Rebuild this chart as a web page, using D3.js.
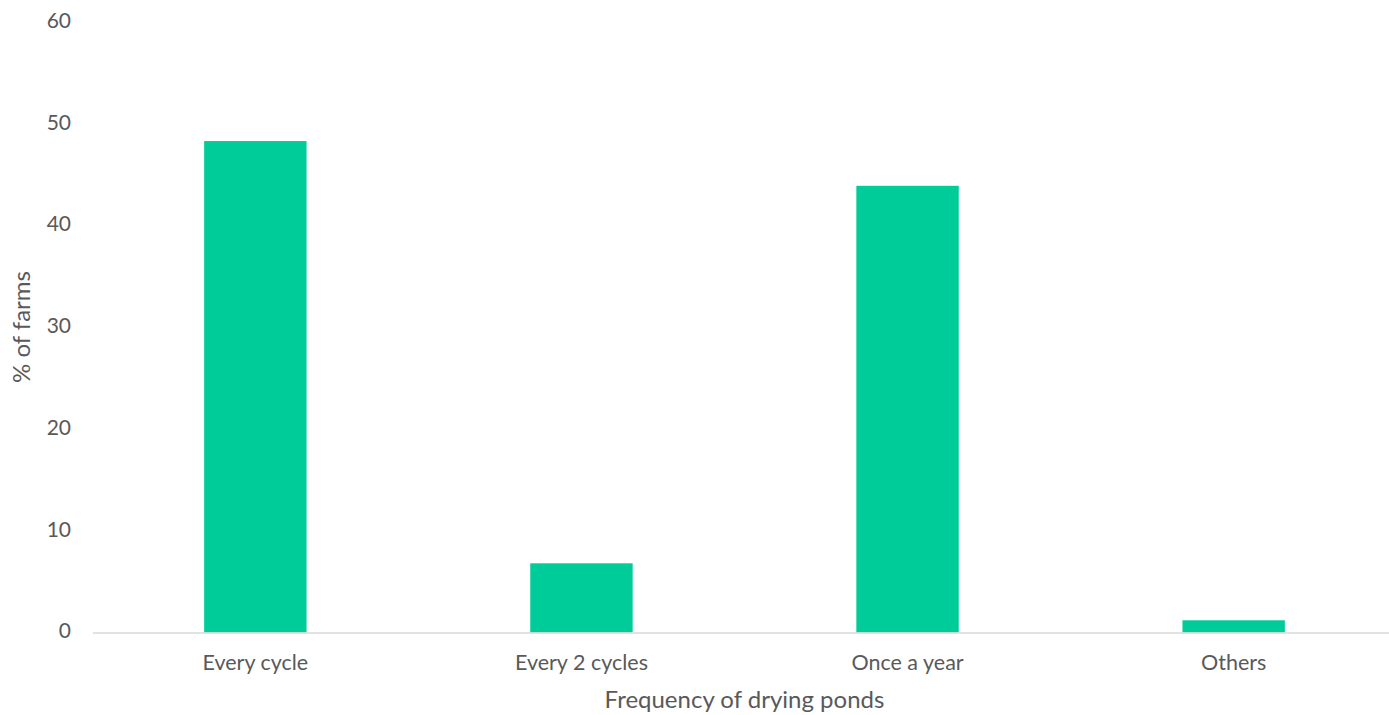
<!DOCTYPE html>
<html><head><meta charset="utf-8">
<script src="https://cdn.jsdelivr.net/npm/d3@7"></script>
<style>html,body{margin:0;padding:0;background:#fff;overflow:hidden}</style>
</head><body>
<svg id="chart" width="1389" height="715"></svg>
<script>
const categories = ["Every cycle", "Every 2 cycles", "Once a year", "Others"];
const values = [48.3, 6.8, 43.9, 1.2];
const yTicks = [0, 10, 20, 30, 40, 50, 60];
const xTitle = "Frequency of drying ponds";
const yTitle = "% of farms";

const svg = d3.select("#chart");
const font = "Lato, 'Open Sans', sans-serif";
const textColor = "#595959";
const barColor = "#00cc99";

const x = d3.scaleBand().domain(categories).range([92.3, 1396.7]).paddingInner(0.686).paddingOuter(0.343);
const y = d3.scaleLinear().domain([0, 60]).range([632.5, 22]);

// bars
svg.append("g").selectAll("rect").data(categories).join("rect")
  .attr("x", d => x(d))
  .attr("width", x.bandwidth())
  .attr("y", (d, i) => y(values[i]))
  .attr("height", (d, i) => y(0) - y(values[i]))
  .attr("fill", barColor);

// x axis
const xAxis = svg.append("g").attr("transform", `translate(0,${y(0)})`)
  .call(d3.axisBottom(x).tickSize(0).tickPadding(22));
xAxis.select(".domain").attr("stroke", "#d9d9d9").attr("stroke-width", 1.5);
xAxis.selectAll("text").attr("font-family", font).attr("font-size", 21.5).attr("fill", textColor);

// y axis
const yAxis = svg.append("g").attr("transform", `translate(92,0)`)
  .call(d3.axisLeft(y).tickValues(yTicks).tickSize(0).tickPadding(21));
yAxis.select(".domain").remove();
yAxis.selectAll("text").attr("font-family", font).attr("font-size", 21).attr("fill", textColor)
  .attr("dy", "0.25em");

// titles
svg.append("text").attr("x", 744.5).attr("y", 708)
  .attr("text-anchor", "middle").attr("font-family", font).attr("font-size", 24)
  .attr("fill", textColor).text(xTitle);
svg.append("text").attr("transform", `translate(30,327) rotate(-90)`)
  .attr("text-anchor", "middle").attr("font-family", font).attr("font-size", 24)
  .attr("fill", textColor).text(yTitle);
</script>
</body></html>
